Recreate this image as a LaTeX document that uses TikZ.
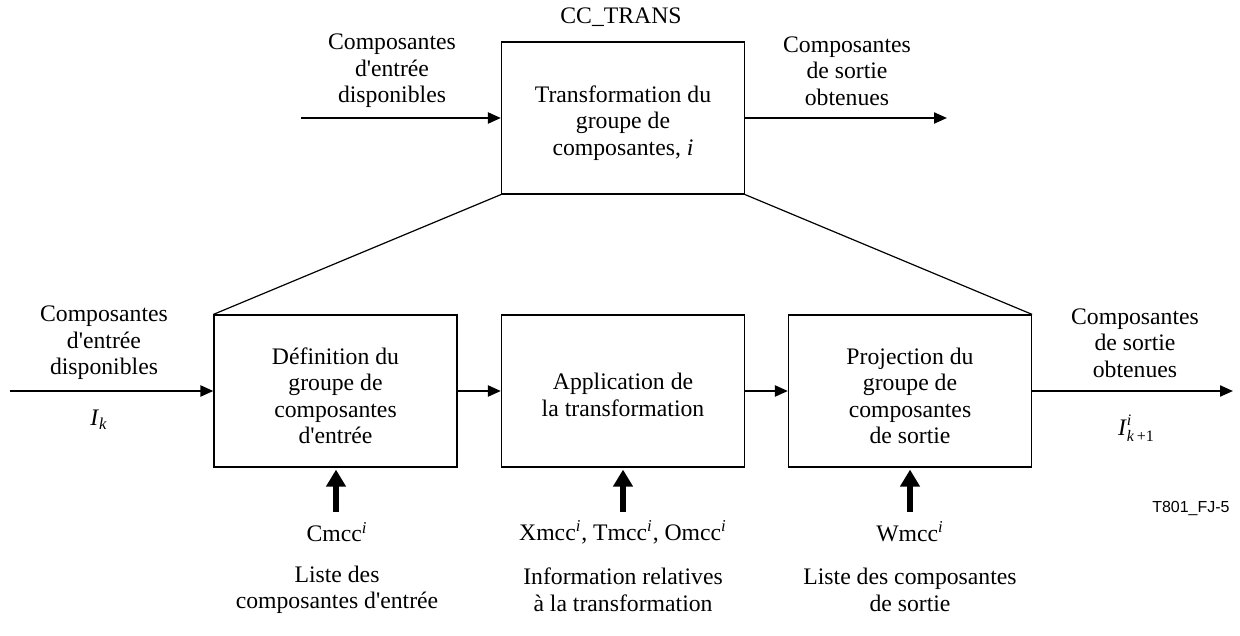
\documentclass[tikz,border=0pt]{standalone}
\usepackage{fontspec}
\setmainfont{Liberation Serif}[Ligatures=TeXOff]
\newfontfamily\arialfont{Liberation Sans}
\usetikzlibrary{arrows.meta}
\begin{document}
\begin{tikzpicture}[x=0.5pt,y=-0.5pt,
  every node/.style={font=\fontsize{11.85}{13.25}\selectfont, inner sep=0pt},
  box/.style={draw, line width=0.6pt, minimum width=121.5pt, minimum height=76pt},
  lbl/.style={align=center},
  flow/.style={line width=1.1pt, -{Triangle[length=6.5pt,width=5.5pt]}},
  feed/.style={line width=3pt, -{Triangle[length=8.5pt,width=9.5pt]}},
  link/.style={line width=0.6pt},
  small/.style={font=\arialfont\fontsize{8}{9}\selectfont}
]
\useasboundingbox (0,0) rectangle (1240,636);

% boxes
\node[box] (top) at (623,118) {};
\node[box] (b1) at (335.5,391) {};
\node[box] (b2) at (623,391) {};
\node[box] (b3) at (910,391) {};
\node[lbl] (topt) at ([yshift=-2.5pt]top.center) {Transformation du\\groupe de\\composantes, \textit{i}};
\node[lbl] (b1t) at ([yshift=-2.5pt]b1.center) {Définition du\\groupe de\\composantes\\d'entrée};
\node[lbl] (b2t) at ([yshift=-2pt]b2.center) {Application de\\la transformation};
\node[lbl] (b3t) at ([yshift=-2.5pt]b3.center) {Projection du\\groupe de\\composantes\\de sortie};

% top labels
\node (cc) at (621,17) {CC\_TRANS};
\node[lbl] (tl) at (392,71) {Composantes\\d'entrée\\disponibles};
\node[lbl] (tr) at (847,71) {Composantes\\de sortie\\obtenues};

% side labels
\node[lbl] (ll) at (104,343) {Composantes\\d'entrée\\disponibles};
\node (ik) at (99,420) {\textit{I}\textsubscript{\textit{k}}};
\node[lbl] (rl) at (1135,343) {Composantes\\de sortie\\obtenues};
\node (ik1) at (1136,428) {\textit{I}\makebox[0pt][l]{\raisebox{0.95ex}{\fontsize{8}{8}\selectfont\textit{i}}}\raisebox{-0.5ex}{\fontsize{8}{8}\selectfont\textit{k}\,+1}};

% bottom labels
\node (c1) at (337,532) {Cmcc\textsuperscript{\textit{i}}};
\node (c2) at (623,532) {Xmcc\textsuperscript{\textit{i}}, Tmcc\textsuperscript{\textit{i}}, Omcc\textsuperscript{\textit{i}}};
\node (c3) at (910,532) {Wmcc\textsuperscript{\textit{i}}};
\node[lbl] (d1) at (337,590) {Liste des\\composantes d'entrée};
\node[lbl] (d2) at (623,590) {Information relatives\\à la transformation};
\node[lbl] (d3) at (910,590) {Liste des composantes\\de sortie};

\node[small, anchor=east] (ref) at (1230,508) {T801\_FJ-5};

% connectors
\coordinate (tin) at (301,118);
\coordinate (tout) at (947,118);
\coordinate (bin) at (10,391);
\coordinate (bout) at (1233,391);
\coordinate (f1) at (336,512);
\coordinate (f2) at (623,512);
\coordinate (f3) at (910,512);

\draw[flow] (tin) -- (top.west);
\draw[flow] (top.east) -- (tout);
\draw[flow] (bin) -- (b1.west);
\draw[flow] (b1.east) -- (b2.west);
\draw[flow] (b2.east) -- (b3.west);
\draw[flow] (b3.east) -- (bout);

\draw[feed, shorten >=1pt] (f1) -- (f1 |- b1.south);
\draw[feed, shorten >=1pt] (f2) -- (f2 |- b2.south);
\draw[feed, shorten >=1pt] (f3) -- (f3 |- b3.south);

\draw[link] (top.south west) -- (b1.north west);
\draw[link] (top.south east) -- (b3.north east);
\end{tikzpicture}
\end{document}
